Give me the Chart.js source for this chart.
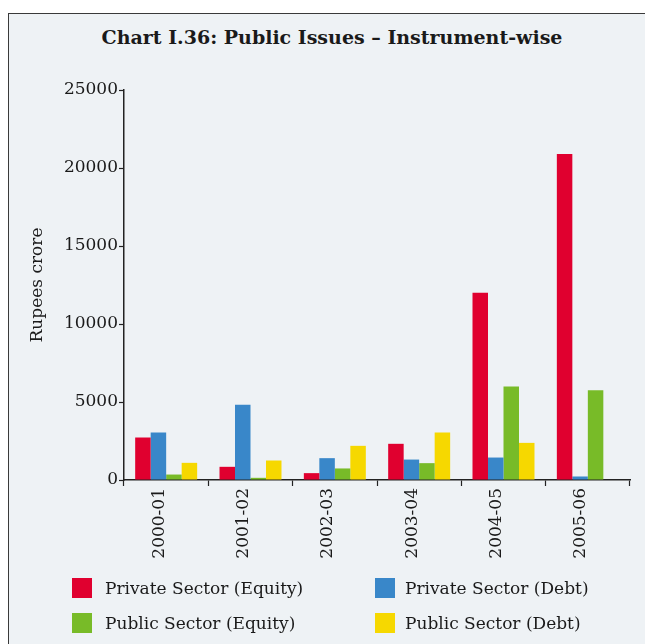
<!DOCTYPE html>
<html>
<head>
<meta charset="utf-8">
<script src="https://cdn.jsdelivr.net/npm/chart.js@4.4.1/dist/chart.umd.min.js"></script>
<style>
  html, body { margin: 0; padding: 0; background: #ffffff; }
  #wrap { position: relative; width: 645px; height: 644px; overflow: hidden; }
  #frame {
    position: absolute; left: 8px; top: 13px; width: 660px; height: 660px;
    border: 1.5px solid #3a3a3a; background: #eef2f5;
  }
  #chart { position: absolute; left: 0; top: 0; }
  #title {
    position: absolute; left: 0; top: 26px; width: 664px; text-align: center;
    font-family: "DejaVu Serif", serif; font-size: 19px; font-weight: bold;
    line-height: 23px; color: #1a1a1a; white-space: nowrap;
  }
  .lg-item {
    position: absolute; height: 20px; line-height: 20px;
    font-family: "DejaVu Serif", serif; font-size: 17px; color: #1a1a1a; white-space: nowrap;
  }
  .lg-box { position: absolute; left: 0; top: 0; width: 20px; height: 20px; }
  .lg-text { position: absolute; top: 0; }
</style>
</head>
<body>
<div id="wrap">
  <div id="frame"></div>
  <div id="title">Chart I.36: Public Issues – Instrument-wise</div>
  <canvas id="chart" width="645" height="644"></canvas>
  <div id="legend"></div>
</div>
<script>
// Financial years
const years = ['2000-01', '2001-02', '2002-03', '2003-04', '2004-05', '2005-06'];

// Amounts raised through public issues (Rupees crore)
const privateEquity = [2724, 845, 440, 2320, 12000, 20900];
const privateDebt   = [3045, 4820, 1400, 1310, 1440, 225];
const publicEquity  = [350, 140, 740, 1080, 5990, 5760];
const publicDebt    = [1100, 1250, 2190, 3045, 2380, 0];

const seriesNames = ['Private Sector (Equity)', 'Private Sector (Debt)', 'Public Sector (Equity)', 'Public Sector (Debt)'];
const seriesColors = ['#e0002f', '#3987c9', '#78bb28', '#f6d800'];

const yTicks = [0, 5000, 10000, 15000, 20000, 25000];

const serif = '"DejaVu Serif", serif';
const ink = '#1a1a1a';

const seriesValues = [privateEquity, privateDebt, publicEquity, publicDebt];

const chart = new Chart(document.getElementById('chart'), {
  type: 'bar',
  data: {
    labels: years,
    datasets: seriesValues.map((vals, i) => ({
      label: seriesNames[i],
      data: vals,
      backgroundColor: seriesColors[i],
      borderWidth: 0,
      categoryPercentage: 0.735,
      barPercentage: 1.0
    }))
  },
  options: {
    responsive: false,
    animation: false,
    layout: { padding: { left: 0, right: 15, top: 90, bottom: 0 } },
    plugins: {
      legend: { display: false },
      tooltip: { enabled: false },
      title: { display: false }
    },
    scales: {
      x: {
        grid: {
          drawOnChartArea: false,
          offset: true,
          tickLength: 6,
          tickColor: '#222222',
          tickWidth: 1.2
        },
        border: { color: '#222222', width: 1.5 },
        ticks: {
          color: ink,
          font: { family: serif, size: 17 },
          minRotation: 90,
          maxRotation: 90,
          labelOffset: -7,
          padding: 2
        },
        afterFit: (scale) => { scale.height = 164; }
      },
      y: {
        min: 0,
        max: 25000,
        afterBuildTicks: (scale) => { scale.ticks = yTicks.map(v => ({ value: v })); },
        grid: {
          drawOnChartArea: false,
          tickLength: 5,
          tickColor: '#222222',
          tickWidth: 1.2
        },
        border: { color: '#222222', width: 1.5 },
        ticks: {
          color: ink,
          font: { family: serif, size: 17 },
          padding: 1,
          callback: (v) => String(v)
        },
        title: {
          display: true,
          text: 'Rupees crore',
          color: ink,
          font: { family: serif, size: 17 },
          padding: { top: 27, bottom: 0 }
        },
        afterFit: (scale) => { scale.width = 124; }
      }
    }
  }
});

// Legend laid out in two columns from the chart's datasets
const legendPos = [
  { box: [72, 578], text: 105 },
  { box: [375, 578], text: 405 },
  { box: [72, 613], text: 105 },
  { box: [375, 613], text: 405 }
];
const legendEl = document.getElementById('legend');
chart.data.datasets.forEach((ds, i) => {
  const p = legendPos[i];
  const item = document.createElement('div');
  item.className = 'lg-item';
  item.style.left = p.box[0] + 'px';
  item.style.top = p.box[1] + 'px';
  const box = document.createElement('div');
  box.className = 'lg-box';
  box.style.background = ds.backgroundColor;
  const txt = document.createElement('div');
  txt.className = 'lg-text';
  txt.style.left = (p.text - p.box[0]) + 'px';
  txt.textContent = ds.label;
  item.appendChild(box);
  item.appendChild(txt);
  legendEl.appendChild(item);
});
</script>
</body>
</html>
